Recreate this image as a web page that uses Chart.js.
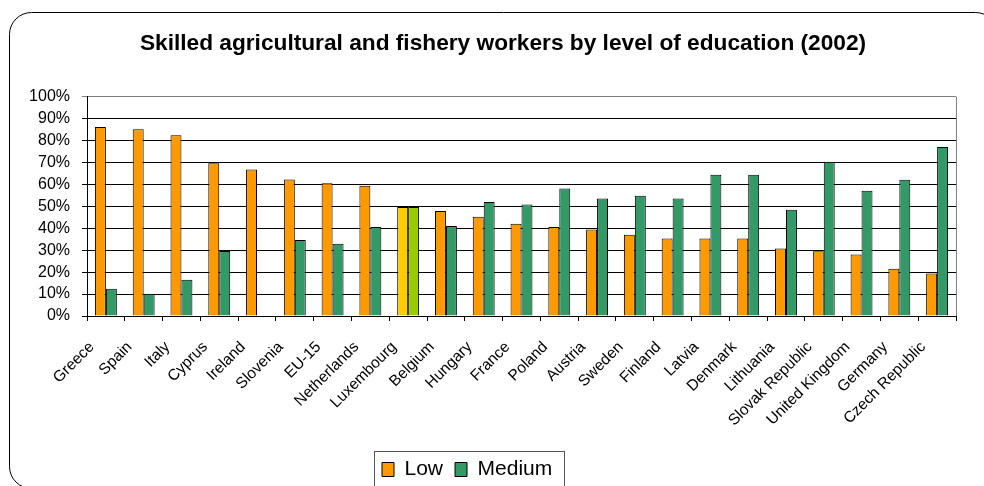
<!DOCTYPE html>
<html>
<head>
<meta charset="utf-8">
<script src="https://cdn.jsdelivr.net/npm/chart.js@4.4.1/dist/chart.umd.min.js"></script>
<style>
  html, body { margin: 0; padding: 0; background: #fff; }
  #wrap { width: 984px; height: 486px; position: relative; }
</style>
</head>
<body>
<div id="wrap"><canvas id="chart"></canvas></div>
<script>
const chartTitle = 'Skilled agricultural and fishery workers by level of education (2002)'
const categories = ['Greece', 'Spain', 'Italy', 'Cyprus', 'Ireland', 'Slovenia', 'EU-15', 'Netherlands',
    'Luxembourg', 'Belgium', 'Hungary', 'France', 'Poland', 'Austria', 'Sweden', 'Finland', 'Latvia',
    'Denmark', 'Lithuania', 'Slovak Republic', 'United Kingdom', 'Germany', 'Czech Republic']
const lowValues = [86.2, 85.2, 82.4, 69.7, 66.8, 62.3, 60.5, 59.4, 49.7, 47.9, 45.3, 42.1, 40.6, 39.4,
    37.1, 35.3, 35.3, 35.3, 30.8, 29.5, 28.0, 21.5, 19.4]
const mediumValues = [12.4, 10.1, 16.5, 29.7, null, 34.7, 33.0, 40.6, 49.7, 41.0, 52.0, 50.8, 58.2, 53.6,
    54.8, 53.6, 64.4, 64.4, 48.5, 70.3, 57.1, 62.1, 77.1]
const yTickLabels = ['0%', '10%', '20%', '30%', '40%', '50%', '60%', '70%', '80%', '90%', '100%']
const highlighted = 'Luxembourg'

Chart.defaults.font.family = "'Liberation Sans', Arial, sans-serif"
Chart.defaults.color = '#000'

const lowColors = categories.map(c => c === highlighted ? '#FFCC00' : '#FF9900')
const mediumColors = categories.map(c => c === highlighted ? '#99CC00' : '#339966')

// nudge title and legend to where excel put them
const blockShift = {
    id: 'blockShift',
    afterLayout(chart) {
        const t = chart.titleBlock
        t.left += 25
        t.right += 25
        const lg = chart.legend
        lg.left = 370
        lg.top += 4
        lg.bottom += 4
    }
}

const frame = {
    id: 'frame',
    afterDraw(chart) {
        const { ctx, chartArea } = chart
        ctx.save()
        ctx.lineWidth = 1
        // outer rounded border
        ctx.strokeStyle = '#000'
        ctx.beginPath()
        ctx.roundRect(9.5, 12.5, 988, 476, 22)
        ctx.stroke()
        // right edge of the plot area
        ctx.strokeStyle = '#808080'
        ctx.beginPath()
        ctx.moveTo(Math.round(chartArea.right) + 0.5, chartArea.top)
        ctx.lineTo(Math.round(chartArea.right) + 0.5, chartArea.bottom)
        ctx.stroke()
        // legend box
        const lg = chart.legend
        const pad = lg.options.labels.padding
        const x0 = Math.round(lg.left + pad - 8) + 0.5
        const x1 = Math.round(lg.left + lg.lineWidths[0] + 12) + 0.5
        const y0 = Math.round(lg.top + pad - 8) + 0.5
        ctx.strokeStyle = '#555'
        ctx.strokeRect(x0, y0, x1 - x0, 60)
        ctx.restore()
    }
}

new Chart(document.getElementById('chart'), {
    type: 'bar',
    data: {
        labels: categories,
        datasets: [{
            label: 'Low',
            data: lowValues,
            backgroundColor: lowColors,
            borderColor: '#000',
            borderWidth: 1
        }, {
            label: 'Medium',
            data: mediumValues,
            backgroundColor: mediumColors,
            borderColor: '#000',
            borderWidth: 1
        }]
    },
    options: {
        responsive: true,
        maintainAspectRatio: false,
        animation: false,
        layout: { padding: { left: 0, right: 28, top: 0, bottom: 0 } },
        datasets: { bar: { categoryPercentage: 0.58, barPercentage: 1 } },
        plugins: {
            title: {
                display: true,
                text: chartTitle,
                font: { size: 22.7, weight: 'bold' },
                color: '#000',
                padding: { top: 30, bottom: 39.5 }
            },
            legend: {
                position: 'bottom',
                align: 'start',
                labels: { boxWidth: 12, boxHeight: 14, padding: 12, font: { size: 21 }, color: '#000' }
            },
            tooltip: { enabled: false }
        },
        scales: {
            x: {
                offset: true,
                grid: { offset: true, drawOnChartArea: false, tickLength: 5, color: '#000' },
                border: { color: '#000' },
                ticks: {
                    autoSkip: false,
                    minRotation: 45,
                    maxRotation: 45,
                    padding: 17,
                    labelOffset: -14,
                    font: { size: 15.5 },
                    color: '#000'
                },
                afterFit: s => { s.height = 127 }
            },
            y: {
                min: 0,
                max: 100,
                ticks: {
                    stepSize: 10,
                    autoSkip: false,
                    padding: 12,
                    font: { size: 16 },
                    color: '#000',
                    callback: (v, i) => yTickLabels[i]
                },
                grid: {
                    tickLength: 5,
                    color: c => (c.tick && c.tick.value === 100) ? '#808080' : '#000'
                },
                border: { color: '#000' },
                afterFit: s => { s.width = 87 }
            }
        }
    },
    plugins: [blockShift, frame]
})
</script>
</body>
</html>
